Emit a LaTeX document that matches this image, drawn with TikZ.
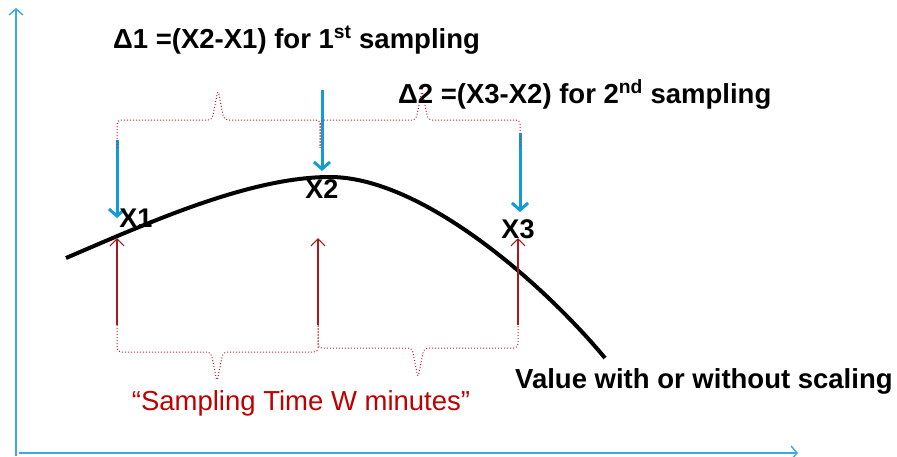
\documentclass[tikz,border=0pt]{standalone}
\usepackage{fontspec}
\setmainfont{Liberation Sans}
\usepackage{tikz}
\usetikzlibrary{arrows.meta,calc}
\definecolor{axisblue}{RGB}{60,170,225}
\definecolor{markblue}{RGB}{20,155,215}
\definecolor{bracered}{RGB}{200,30,40}
\definecolor{darkred}{RGB}{165,25,30}
\definecolor{labelred}{RGB}{192,0,0}
\tikzset{
  axis/.style={draw=axisblue,line width=1.4pt,-{Straight Barb[length=6pt,width=14pt]}},
  probe/.style={draw=markblue,line width=3pt,-{Straight Barb[length=7pt,width=16pt,line width=3pt]}},
  tick/.style={draw=darkred,line width=1.2pt,-{Straight Barb[length=7pt,width=14pt]}},
  brc/.style={draw=bracered,dotted,line width=1pt,rounded corners=4pt},
  curve/.style={draw=black,line width=4pt},
  big/.style={font=\bfseries\fontsize{27.5}{32}\selectfont,inner sep=0pt},
  xlab/.style={font=\bfseries\fontsize{27}{32}\selectfont,inner sep=0pt},
}

\begin{document}
\begin{tikzpicture}[x=1pt,y=-1pt]
  \useasboundingbox (0,0) rectangle (897,456);
  % axes
  \coordinate (o1) at (16,456);
  \coordinate (ytop) at (16,8);
  \coordinate (o2) at (19,453);
  \coordinate (xend) at (798,453);
  \draw[axis] (o1) -- (ytop);
  \draw[axis] (o2) -- (xend);
  % value curve
  \coordinate (c0) at (66,258);
  \coordinate (cpk) at (330,177);
  \coordinate (c1) at (605,358);
  \draw[curve] (c0) .. controls (150,222) and (250,177) .. (cpk)
                    .. controls (420,177) and (540,280) .. (c1);
  % sampling points
  \coordinate (p1) at (117,140);  \coordinate (q1) at (117,218);
  \coordinate (p2) at (322,90);   \coordinate (q2) at (322,171);
  \coordinate (p3) at (520,133);  \coordinate (q3) at (520,212);
  \draw[probe] (p1) -- (q1);
  \draw[probe] (p2) -- (q2);
  \draw[probe] (p3) -- (q3);
  \node[xlab] (x1) at (136,218) {X1};
  \node[xlab] (x2) at (322,189) {X2};
  \node[xlab] (x3) at (518,229) {X3};
  % upper braces
  \draw[brc] (117,148) -- (117,120) -- (212,120) -- (218,90)
             -- (224,120) -- (320,120) -- (320,148);
  \draw[brc] (320,148) -- (320,120) -- (416,120) -- (422,90)
             -- (428,120) -- (520,120) -- (520,148);
  % time marks
  \coordinate (b1) at (117,325);  \coordinate (t1) at (117,238);
  \coordinate (b2) at (318,325);  \coordinate (t2) at (318,238);
  \coordinate (b3) at (518,325);  \coordinate (t3) at (518,238);
  \draw[tick] (b1) -- (t1);
  \draw[tick] (b2) -- (t2);
  \draw[tick] (b3) -- (t3);
  % lower braces
  \draw[brc] (117,325) -- (117,352) -- (211,352) -- (217,382)
             -- (223,352) -- (318,352) -- (318,325);
  \draw[brc] (318,325) -- (318,348) -- (412,348) -- (418,378)
             -- (424,348) -- (518,348) -- (518,325);
  % labels
  \node[big,anchor=base west] (d1) at (113,48)
    {Δ1 =(X2-X1) for 1\textsuperscript{st} sampling};
  \node[big,anchor=base west] (d2) at (398,103)
    {Δ2 =(X3-X2) for 2\textsuperscript{nd} sampling};
  \node[big,anchor=base west] (val) at (515,388) {Value with or without scaling};
  \node[inner sep=0pt,anchor=base,text=labelred,font=\fontsize{27.5}{32}\selectfont]
    (tw) at (301,410) {“Sampling Time W minutes”};
\end{tikzpicture}
\end{document}
